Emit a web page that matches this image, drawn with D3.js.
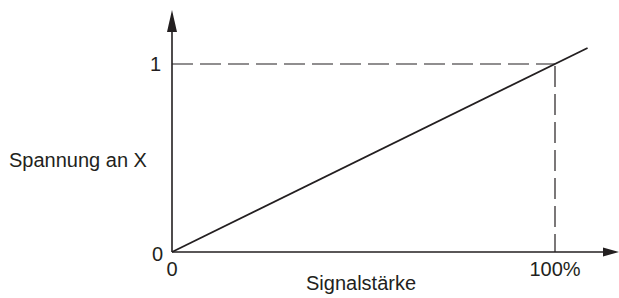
<!DOCTYPE html>
<html>
<head>
<meta charset="utf-8">
<script src="https://cdn.jsdelivr.net/npm/d3@7"></script>
<style>
  body { margin: 0; background: #fff; }
  text { font-family: "Liberation Sans", Arial, sans-serif; fill: #231f20; }
</style>
</head>
<body>
<div class="vis"></div>
<script>
var width = 619
var height = 298

// data
var xTickValues = [0, 1]
var xTickLabels = ["0", "100%"]
var yTickValues = [0, 1]
var yTickLabels = ["0", "1"]
var lineX = [0, 1.085]
var lineY = [0, 1.085]
var xTitle = "Signalstärke"
var yTitle = "Spannung an X"

var ink = "#231f20"
var fontSize = 20

var svg = d3.select(".vis").append("svg")
    .attr("width", width)
    .attr("height", height)

var x = d3.scaleLinear().domain([0, 1]).range([172, 555])
var y = d3.scaleLinear().domain([0, 1]).range([252, 64])

// axes with arrows
svg.append("line")
    .attr("x1", x(0)).attr("y1", y(0))
    .attr("x2", 604).attr("y2", y(0))
    .attr("stroke", ink).attr("stroke-width", 1.6)
svg.append("path")
    .attr("d", "M603," + (y(0) - 4.5) + "L619," + y(0) + "L603," + (y(0) + 4.5) + "Z")
    .attr("fill", ink)

svg.append("line")
    .attr("x1", x(0)).attr("y1", y(0))
    .attr("x2", x(0)).attr("y2", 30)
    .attr("stroke", ink).attr("stroke-width", 1.6)
svg.append("path")
    .attr("d", "M" + (x(0) - 5) + ",32L" + x(0) + ",10L" + (x(0) + 5) + ",32Z")
    .attr("fill", ink)

// dashed guides
svg.append("line")
    .attr("x1", x(0)).attr("y1", y(1))
    .attr("x2", x(1)).attr("y2", y(1))
    .attr("stroke", ink).attr("stroke-width", 1.2)
    .attr("stroke-dasharray", "21,7")
svg.append("line")
    .attr("x1", x(1)).attr("y1", y(1))
    .attr("x2", x(1)).attr("y2", y(0))
    .attr("stroke", ink).attr("stroke-width", 1.2)
    .attr("stroke-dasharray", "21,7")
    .attr("stroke-dashoffset", -2)

// the line
var line = d3.line()
    .x(function(d, i){ return x(lineX[i]) })
    .y(function(d, i){ return y(lineY[i]) })
svg.append("path")
    .datum(lineX)
    .attr("d", line)
    .attr("fill", "none")
    .attr("stroke", ink)
    .attr("stroke-width", 1.8)

// tick labels
svg.selectAll(".xtick")
    .data(xTickValues)
  .enter().append("text")
    .attr("class", "xtick")
    .attr("x", function(d){ return x(d) })
    .attr("y", 276)
    .attr("text-anchor", "middle")
    .attr("font-size", fontSize)
    .text(function(d, i){ return xTickLabels[i] })

svg.selectAll(".ytick")
    .data(yTickValues)
  .enter().append("text")
    .attr("class", "ytick")
    .attr("x", function(d, i){ return i == 0 ? 163 : 161 })
    .attr("y", function(d){ return y(d) + 7 + (d == 0 ? 2 : 0) })
    .attr("text-anchor", "end")
    .attr("font-size", fontSize)
    .text(function(d, i){ return yTickLabels[i] })

// titles
svg.append("text")
    .attr("x", 306)
    .attr("y", 290)
    .attr("font-size", fontSize)
    .text(xTitle)

svg.append("text")
    .attr("x", 9)
    .attr("y", 167)
    .attr("font-size", fontSize)
    .text(yTitle)
</script>
</body>
</html>
